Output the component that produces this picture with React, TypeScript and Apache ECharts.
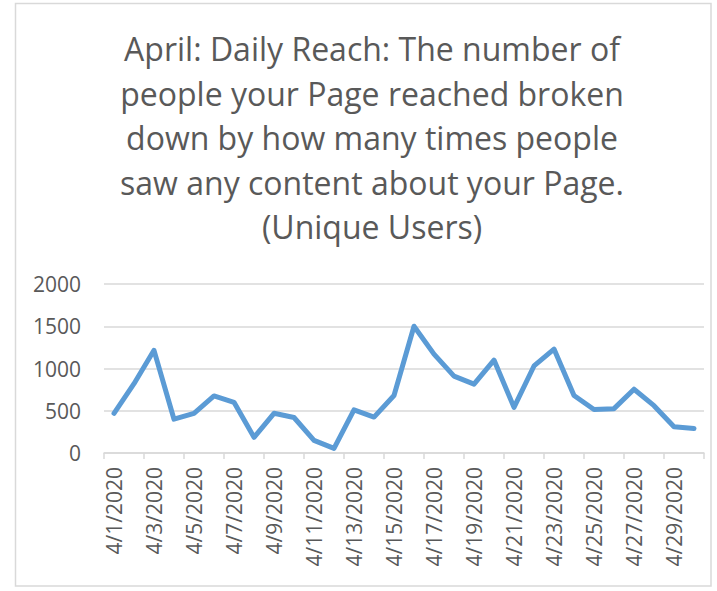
import React, { useEffect, useRef } from "react";
import * as echarts from "echarts";

const titleLines = [
  "April: Daily Reach: The number of",
  "people your Page reached broken",
  "down by how many times people",
  "saw any content about your Page.",
  "(Unique Users)",
];

const dates = [
  "4/1/2020", "4/2/2020", "4/3/2020", "4/4/2020", "4/5/2020", "4/6/2020",
  "4/7/2020", "4/8/2020", "4/9/2020", "4/10/2020", "4/11/2020", "4/12/2020",
  "4/13/2020", "4/14/2020", "4/15/2020", "4/16/2020", "4/17/2020", "4/18/2020",
  "4/19/2020", "4/20/2020", "4/21/2020", "4/22/2020", "4/23/2020", "4/24/2020",
  "4/25/2020", "4/26/2020", "4/27/2020", "4/28/2020", "4/29/2020", "4/30/2020",
];

const reach = [
  470, 820, 1215, 400, 470, 675, 600, 185, 470, 420,
  150, 55, 510, 425, 680, 1500, 1170, 910, 815, 1100,
  540, 1030, 1230, 680, 515, 525, 755, 560, 310, 290,
];

const yTicks = { min: 0, max: 2000, interval: 500 };

const FONT = "'Open Sans', 'Noto Sans', sans-serif";
const TEXT = "#595959";
const GRID = "#d9d9d9";

export default function App() {
  const ref = useRef<HTMLDivElement>(null);

  useEffect(() => {
    if (!ref.current) return;
    const chart = echarts.init(ref.current, undefined, { renderer: "svg" });
    chart.setOption({
      animation: false,
      backgroundColor: "#ffffff",
      textStyle: { fontFamily: FONT },
      graphic: [
        {
          type: "rect",
          shape: { x: 15.5, y: 3.5, width: 695.5, height: 582.5 },
          style: { fill: "none", stroke: GRID, lineWidth: 1.5 },
          silent: true,
        },
        {
          type: "text",
          x: 372,
          y: 26.5,
          style: {
            text: titleLines.join("\n"),
            textAlign: "center",
            textVerticalAlign: "top",
            fontFamily: FONT,
            fontSize: 32,
            lineHeight: 44.5,
            fill: TEXT,
          },
        },
      ],
      grid: { left: 104, right: 13, top: 284, bottom: 138 },
      xAxis: {
        type: "category",
        data: dates,
        boundaryGap: true,
        axisLine: { show: true, lineStyle: { color: GRID, width: 1.5 } },
        axisTick: { show: true, interval: 1, length: 6, lineStyle: { color: GRID, width: 1.5 } },
        axisLabel: {
          interval: 1,
          rotate: 90,
          margin: 14,
          color: TEXT,
          fontFamily: FONT,
          fontSize: 21,
        },
        splitLine: { show: false },
      },
      yAxis: {
        type: "value",
        min: yTicks.min,
        max: yTicks.max,
        interval: yTicks.interval,
        axisLine: { show: false },
        axisTick: { show: false },
        axisLabel: {
          color: TEXT,
          fontFamily: FONT,
          fontSize: 21,
          margin: 23,
          formatter: (v: number) => String(v),
        },
        splitLine: { show: true, lineStyle: { color: GRID, width: 1.5 } },
      },
      series: [
        {
          type: "line",
          data: reach,
          symbol: "none",
          lineStyle: { color: "#5B9BD5", width: 5, cap: "round", join: "round" },
          itemStyle: { color: "#5B9BD5" },
        },
      ],
    });
    return () => chart.dispose();
  }, []);

  return (
    <div
      ref={ref}
      style={{ position: "fixed", left: 0, top: 0, width: 717, height: 591, background: "#fff" }}
    />
  );
}
